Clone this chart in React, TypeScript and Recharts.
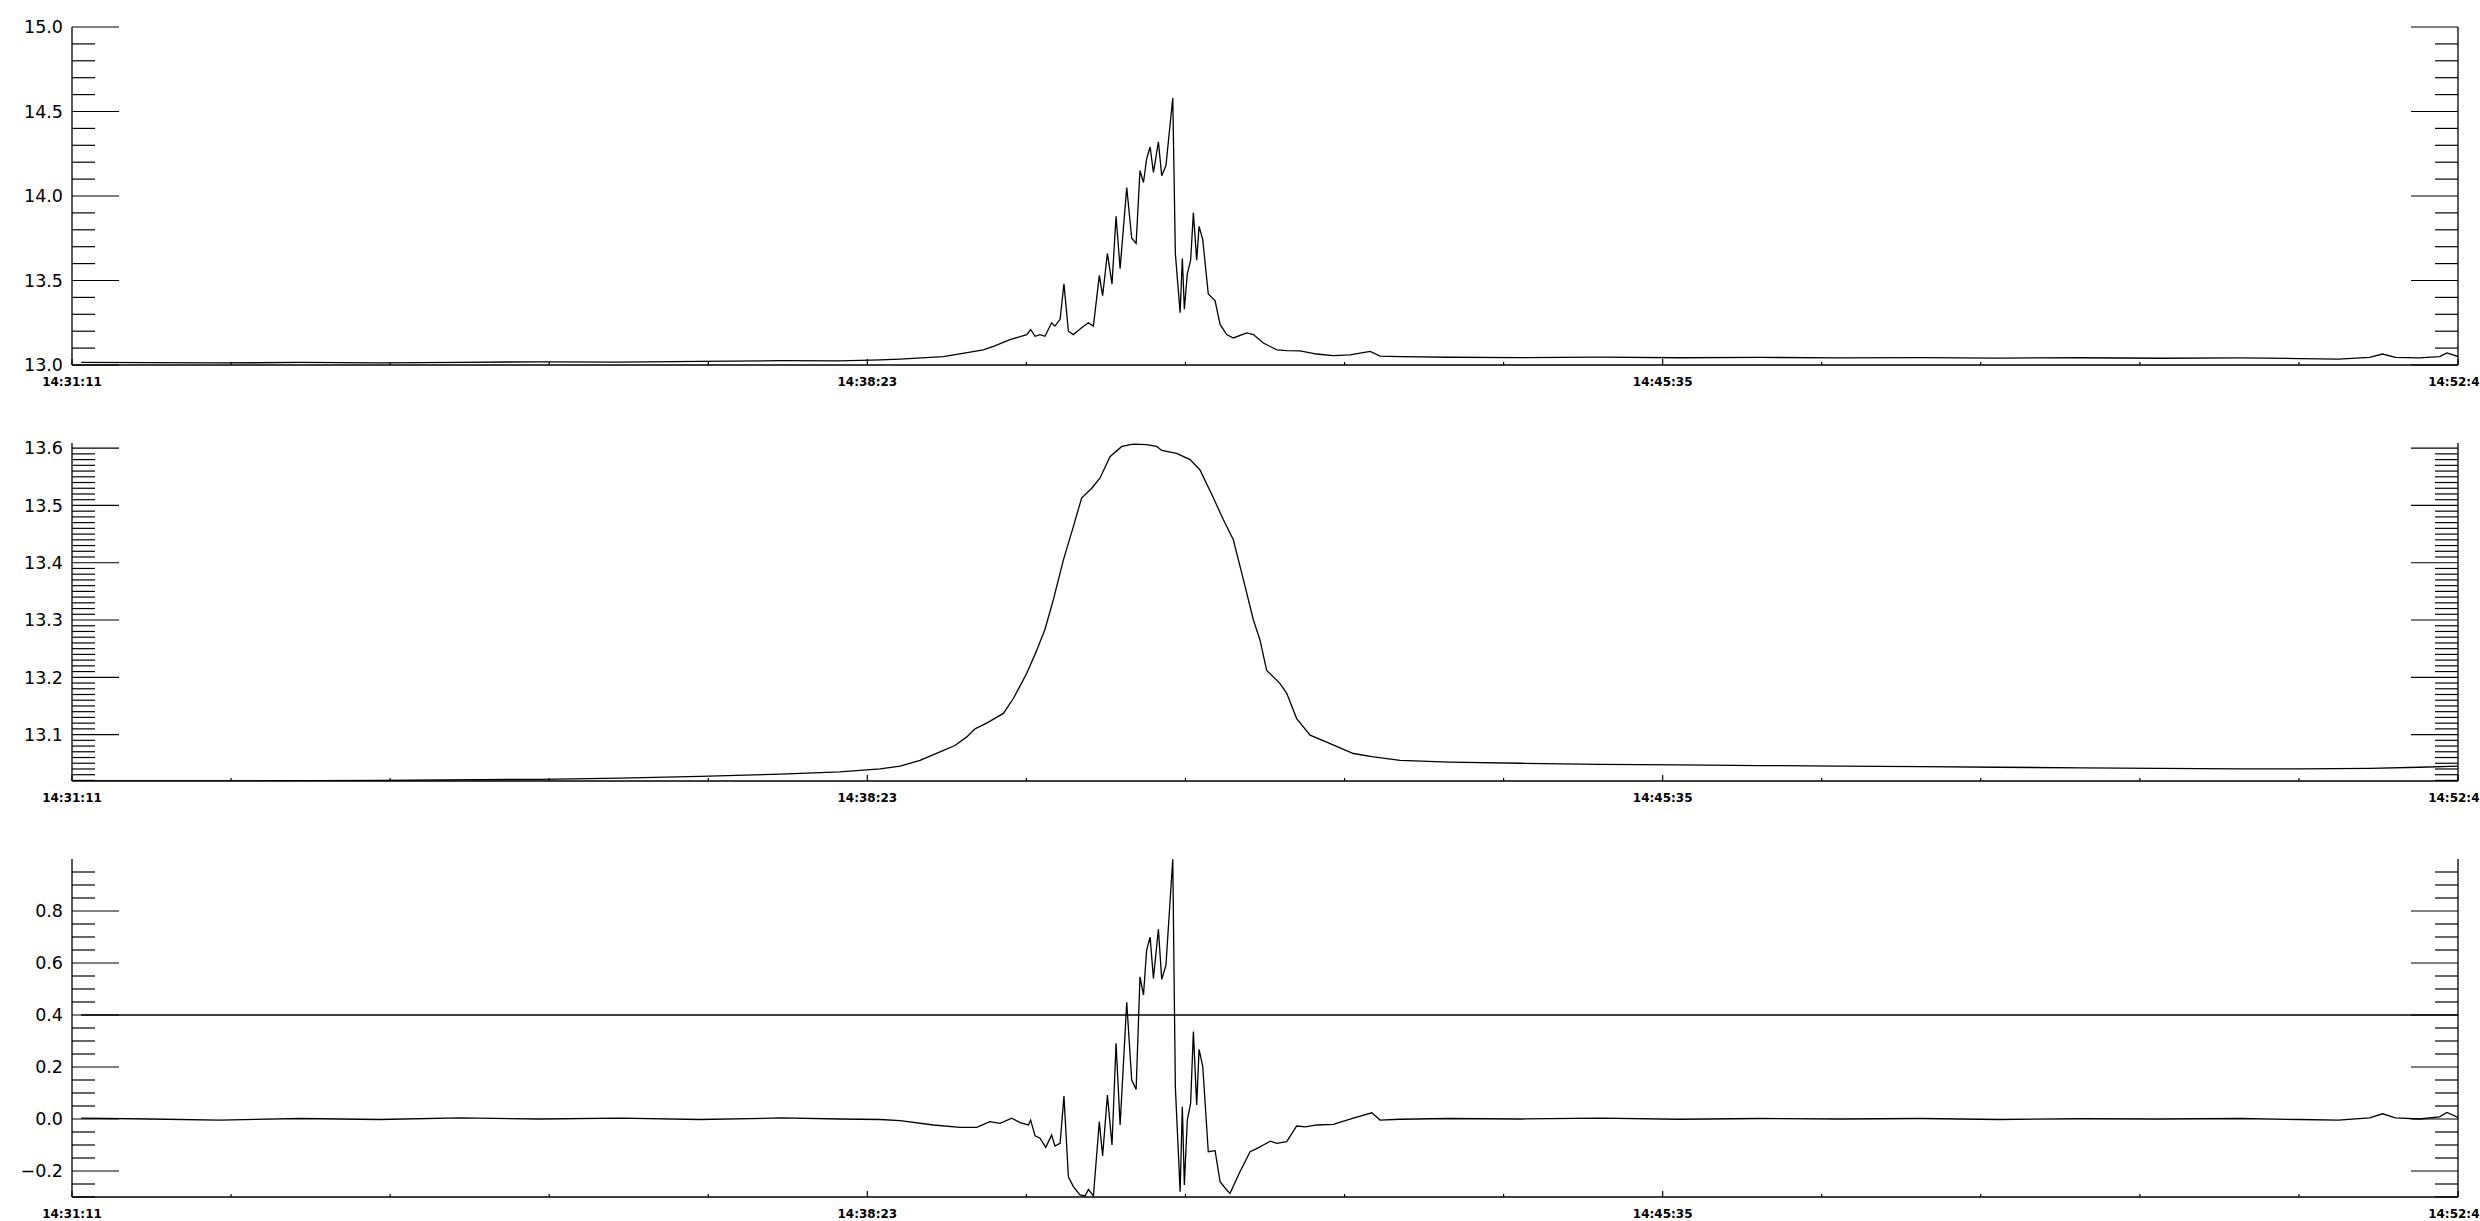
import React from "react";
import { LineChart, Line, XAxis, YAxis, ReferenceLine } from "recharts";

// seconds after 14:31:11
const fluxTimes = [
  5, 42, 80, 124, 167, 211, 254, 298, 341, 385, 417, 439,
  449.8, 473.3, 495.0, 500.5, 509.5, 518.6, 520.7, 523.1, 525.8, 528.5, 532.1, 533.9,
  536.7, 538.8, 541.2, 543.9, 548.4, 552.1, 554.8, 558.0, 559.8, 562.4, 564.9, 567.1,
  569.3, 572.9, 575.6, 578.0, 580.1, 582.0, 583.7, 585.6, 587.4, 590.1, 591.9, 594.2,
  597.9, 599.3, 601.9, 603.1, 604.2, 605.8, 607.6, 609.1, 610.9, 612.2, 614.2, 617.2,
  620.9, 623.6, 627.2, 630.8, 638.1, 641.7, 647.1, 654.4, 659.8, 667.0, 676.1, 685.1,
  694.2, 705.1, 710.5, 721.4,
  748, 787, 830, 873, 917, 960, 1004, 1047, 1091, 1134, 1178, 1210, 1231, 1248, 1255,
  1262, 1275, 1286, 1290, 1296,
];
const flux = [
  13.016, 13.014, 13.012, 13.015, 13.013, 13.016, 13.019, 13.017, 13.021, 13.026, 13.024, 13.03,
  13.035, 13.05, 13.089, 13.11, 13.15, 13.18, 13.21, 13.17, 13.18, 13.17, 13.25, 13.23,
  13.27, 13.48, 13.2, 13.18, 13.22, 13.25, 13.23, 13.53, 13.41, 13.66, 13.48, 13.88,
  13.57, 14.05, 13.75, 13.72, 14.15, 14.08, 14.22, 14.29, 14.14, 14.32, 14.12, 14.18,
  14.58, 13.66, 13.31, 13.63, 13.33, 13.54, 13.62, 13.9, 13.62, 13.82, 13.74, 13.42,
  13.38, 13.24, 13.18, 13.16, 13.19, 13.18, 13.13, 13.09, 13.085, 13.083, 13.065, 13.055,
  13.06, 13.08, 13.053, 13.05,
  13.046, 13.044, 13.047, 13.043, 13.045, 13.042, 13.044, 13.041, 13.043, 13.04, 13.042,
  13.038, 13.035, 13.045, 13.065, 13.045, 13.042, 13.05, 13.072, 13.05,
];

const smoothTimes = [
  5, 80, 167, 254, 298, 341, 385, 417, 439,
  449.8, 460.6, 471.5, 479.6, 486.0, 490.5, 496.8, 505.9, 511.3, 518.6, 524.0, 528.5,
  533.0, 538.5, 543.9, 548.4, 553.9, 558.4, 563.8, 570.2, 576.5, 583.7, 589.2, 591.9,
  600.0, 607.3, 612.7, 620.0, 625.4, 630.8, 636.3, 641.7, 645.3, 648.9, 656.2, 659.8,
  665.2, 672.5, 681.5, 696.0, 706.9, 721.4,
  748, 787, 830, 873, 917, 960, 1004, 1047, 1091, 1134, 1178, 1210, 1248, 1275, 1296,
];
const smooth = [
  13.019, 13.019, 13.02, 13.022, 13.024, 13.027, 13.031, 13.035, 13.04,
  13.045, 13.055, 13.07, 13.081, 13.096, 13.11, 13.12, 13.137, 13.163, 13.207, 13.247, 13.284,
  13.335, 13.405, 13.463, 13.513, 13.53, 13.548, 13.585, 13.603, 13.607, 13.606, 13.603, 13.596,
  13.591, 13.58, 13.562, 13.513, 13.475, 13.44, 13.37, 13.3, 13.265, 13.212, 13.189, 13.172,
  13.128, 13.099, 13.087, 13.067, 13.061, 13.055,
  13.052, 13.05, 13.048, 13.047, 13.046, 13.045, 13.044, 13.043, 13.042, 13.041, 13.04,
  13.04, 13.041, 13.043, 13.045,
];

const diffTimes = [
  5, 42, 80, 124, 167, 211, 254, 298, 341, 385, 417, 439,
  449.8, 467.9, 482.4, 491.4, 498.6, 504.1, 510.4, 515.0, 519.5, 520.7, 523.1, 525.8,
  528.9, 532.1, 533.9, 536.7, 538.8, 541.2, 543.9, 547.5, 550.2, 552.1, 554.8, 558.0,
  559.8, 562.4, 564.9, 567.1, 569.3, 572.9, 575.6, 578.0, 580.1, 582.0, 583.7, 585.6,
  587.4, 590.1, 591.9, 594.2, 597.9, 599.3, 601.9, 603.1, 604.2, 605.8, 607.6, 609.1,
  610.9, 612.2, 614.2, 617.2, 620.9, 623.6, 627.2, 629.0, 634.4, 639.9, 644.0, 647.1,
  651.0, 654.4, 659.8, 665.2, 670.0, 676.1, 685.1, 696.0, 706.0, 710.5, 721.4,
  748, 787, 830, 873, 917, 960, 1004, 1047, 1091, 1134, 1178, 1210, 1231, 1248, 1255,
  1262, 1275, 1286, 1290, 1296,
];
const diff = [
  0.003, 0.0, -0.004, 0.002, -0.002, 0.004, 0.0, 0.003, -0.002, 0.004, 0.0, -0.002,
  -0.006, -0.023, -0.032, -0.032, -0.01, -0.017, 0.003, -0.014, -0.023, -0.004, -0.065, -0.074,
  -0.109, -0.062, -0.104, -0.094, 0.088, -0.222, -0.26, -0.292, -0.296, -0.271, -0.296, -0.01,
  -0.142, 0.092, -0.1, 0.291, -0.023, 0.449, 0.15, 0.114, 0.547, 0.477, 0.65, 0.699,
  0.541, 0.73, 0.537, 0.592, 0.999, 0.124, -0.28, 0.047, -0.254, -0.004, 0.06, 0.336,
  0.054, 0.268, 0.201, -0.126, -0.122, -0.241, -0.273, -0.286, -0.203, -0.126, -0.112, -0.1,
  -0.085, -0.094, -0.087, -0.027, -0.03, -0.023, -0.021, 0.003, 0.024, -0.004, -0.001,
  0.002, 0.0, 0.003, -0.001, 0.002, 0.0, 0.002, -0.002, 0.001, 0.0, 0.002, -0.002, -0.004,
  0.004, 0.02, 0.004, 0.0, 0.008, 0.025, 0.006,
];
const diffThreshold = 0.4;

const xMajor = [0, 432, 864, 1296];
const xLabels = ["14:31:11", "14:38:23", "14:45:35", "14:52:47"];

const FONT = "DejaVu Sans";
const INK = "#000";
const W = 2480;
const PANEL_H = 416;
const MARGIN = { top: 27, right: 0, bottom: 21, left: 0 };

function steps(from: number, to: number, step: number) {
  const out: number[] = [];
  const n = Math.round((to - from) / step);
  for (let i = 0; i <= n; i++) out.push(+(from + i * step).toFixed(4));
  return out;
}

const isMajor = (v: number, step: number) => {
  const k = v / step;
  return Math.abs(k - Math.round(k)) < 1e-4;
};

const xTicks = steps(0, 1296, 86.4);

const XTick = (props: any) => {
  const { x, y, payload, top } = props;
  const idx = xMajor.findIndex((m) => Math.abs(m - payload.value) < 0.01);
  const len = idx >= 0 ? 6 : 3;
  return (
    <g>
      <line x1={x} x2={x} y1={y} y2={top ? y + len : y - len} stroke={INK} strokeWidth={1.2} />
      {!top && idx >= 0 && (
        <text x={x} y={y + 20.5} textAnchor="middle" fontFamily={FONT} fontSize={12} fontWeight="bold" fill={INK}>
          {xLabels[idx]}
        </text>
      )}
    </g>
  );
};

const YTick = (props: any) => {
  const { x, y, payload, right, step, fmt } = props;
  const major = isMajor(payload.value, step);
  const len = major ? 47 : 23;
  return (
    <g>
      <line x1={x} x2={right ? x - len : x + len} y1={y} y2={y} stroke={INK} strokeWidth={1.2} />
      {!right && major && (
        <text x={x - 9} y={y + 6.3} textAnchor="end" fontFamily={FONT} fontSize={17.5} fill={INK}>
          {fmt(payload.value)}
        </text>
      )}
    </g>
  );
};

const plain = (v: number) => v.toFixed(1);
const signed = (v: number) => v.toFixed(1).replace("-", "\u2212");

type PanelProps = {
  top: number;
  times: number[];
  values: number[];
  domain: [number, number];
  yTicks: number[];
  step: number;
  fmt: (v: number) => string;
  children?: React.ReactNode;
};

const Panel = ({ top, times, values, domain, yTicks, step, fmt, children }: PanelProps) => {
  const data = values.map((v, i) => ({ t: times[i], v }));
  const frame = { stroke: INK, strokeWidth: 1.3 };
  return (
    <div style={{ position: "absolute", left: 0, top, width: W, height: PANEL_H }}>
      <LineChart width={W} height={PANEL_H} data={data} margin={MARGIN}>
        <XAxis
          xAxisId="b"
          dataKey="t"
          type="number"
          domain={[0, 1296]}
          allowDataOverflow
          ticks={xTicks}
          interval={0}
          height={30}
          tickSize={0}
          tickMargin={0}
          tickLine={false}
          axisLine={frame}
          tick={(p: any) => <XTick {...p} />}
        />
        <XAxis
          xAxisId="t"
          orientation="top"
          dataKey="t"
          type="number"
          domain={[0, 1296]}
          allowDataOverflow
          ticks={xTicks}
          interval={0}
          height={0}
          tickSize={0}
          tickMargin={0}
          tickLine={false}
          axisLine={frame}
          tick={(p: any) => <XTick {...p} top />}
        />
        <YAxis
          yAxisId="l"
          type="number"
          domain={domain}
          allowDataOverflow
          ticks={yTicks}
          interval={0}
          width={72}
          tickSize={0}
          tickMargin={0}
          tickLine={false}
          axisLine={frame}
          tick={(p: any) => <YTick {...p} step={step} fmt={fmt} />}
        />
        <YAxis
          yAxisId="r"
          orientation="right"
          type="number"
          domain={domain}
          allowDataOverflow
          ticks={yTicks}
          interval={0}
          width={22}
          tickSize={0}
          tickMargin={0}
          tickLine={false}
          axisLine={frame}
          tick={(p: any) => <YTick {...p} right step={step} fmt={fmt} />}
        />
        {children}
        <Line
          xAxisId="b"
          yAxisId="l"
          dataKey="v"
          type="linear"
          stroke={INK}
          strokeWidth={1.3}
          dot={false}
          isAnimationActive={false}
        />
      </LineChart>
    </div>
  );
};

export default function App() {
  return (
    <div
      style={{
        position: "absolute",
        left: 0,
        top: 0,
        width: W,
        height: 1221,
        overflow: "hidden",
        background: "#fff",
      }}
    >
      <Panel
        top={0}
        times={fluxTimes}
        values={flux}
        domain={[13.0, 15.0]}
        yTicks={steps(13.0, 15.0, 0.1)}
        step={0.5}
        fmt={plain}
      />
      <Panel
        top={416}
        times={smoothTimes}
        values={smooth}
        domain={[13.019, 13.609]}
        yTicks={steps(13.02, 13.6, 0.01)}
        step={0.1}
        fmt={plain}
      />
      <Panel
        top={832}
        times={diffTimes}
        values={diff}
        domain={[-0.3, 1.0]}
        yTicks={steps(-0.3, 0.95, 0.05)}
        step={0.2}
        fmt={signed}
      >
        <ReferenceLine
          xAxisId="b"
          yAxisId="l"
          segment={[
            { x: diffTimes[0], y: diffThreshold },
            { x: diffTimes[diffTimes.length - 1], y: diffThreshold },
          ]}
          stroke={INK}
          strokeWidth={1.3}
        />
      </Panel>
    </div>
  );
}
